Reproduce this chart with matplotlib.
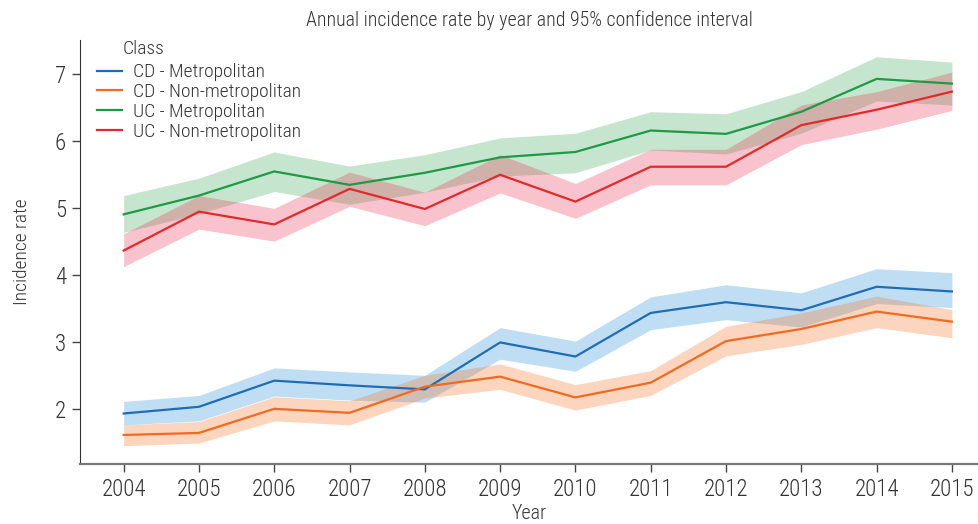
import matplotlib
matplotlib.use("Agg")
import matplotlib.pyplot as plt
from matplotlib import font_manager

# Pick a narrow sans-serif if one is installed
available = {f.name for f in font_manager.fontManager.ttflist}
family = "DejaVu Sans"
for cand in ["Roboto Condensed", "Liberation Sans Narrow", "Open Sans Condensed", "Liberation Sans"]:
    if cand in available:
        family = cand
        break
plt.rcParams["font.family"] = [family, "DejaVu Sans"]
plt.rcParams["font.weight"] = "light"
plt.rcParams["axes.titleweight"] = "light"
plt.rcParams["axes.labelweight"] = "light"

years = [2004, 2005, 2006, 2007, 2008, 2009, 2010, 2011, 2012, 2013, 2014, 2015]

cd_metro = [1.94, 2.04, 2.43, 2.36, 2.30, 3.00, 2.79, 3.44, 3.60, 3.48, 3.83, 3.76]
cd_metro_lo = [1.77, 1.83, 2.20, 2.14, 2.11, 2.75, 2.57, 3.19, 3.34, 3.23, 3.58, 3.52]
cd_metro_hi = [2.12, 2.21, 2.62, 2.56, 2.51, 3.22, 3.02, 3.68, 3.86, 3.74, 4.10, 4.04]

cd_nonmetro = [1.62, 1.65, 2.01, 1.95, 2.34, 2.49, 2.18, 2.40, 3.02, 3.20, 3.46, 3.31]
cd_nonmetro_lo = [1.46, 1.50, 1.83, 1.77, 2.17, 2.30, 1.99, 2.21, 2.80, 2.97, 3.22, 3.07]
cd_nonmetro_hi = [1.77, 1.82, 2.19, 2.13, 2.51, 2.68, 2.37, 2.58, 3.24, 3.44, 3.69, 3.49]

uc_metro = [4.91, 5.19, 5.55, 5.35, 5.53, 5.76, 5.84, 6.16, 6.11, 6.44, 6.93, 6.86]
uc_metro_lo = [4.64, 4.92, 5.25, 5.06, 5.24, 5.48, 5.53, 5.87, 5.81, 6.12, 6.60, 6.54]
uc_metro_hi = [5.19, 5.45, 5.84, 5.63, 5.80, 6.05, 6.12, 6.44, 6.41, 6.74, 7.26, 7.18]

uc_nonmetro = [4.37, 4.95, 4.76, 5.29, 4.99, 5.50, 5.10, 5.62, 5.62, 6.24, 6.47, 6.74]
uc_nonmetro_lo = [4.13, 4.69, 4.51, 5.03, 4.74, 5.23, 4.85, 5.35, 5.35, 5.95, 6.18, 6.46]
uc_nonmetro_hi = [4.62, 5.19, 5.00, 5.54, 5.24, 5.80, 5.37, 5.88, 5.88, 6.54, 6.74, 7.03]

labels = ["CD - Metropolitan", "CD - Non-metropolitan",
          "UC - Metropolitan", "UC - Non-metropolitan"]
line_colors = ["#1f6db5", "#f26a1f", "#1d9a45", "#e22a2a"]
band_colors = ["#2d94da", "#f57626", "#41ac5f", "#e83a58"]

series = [
    (cd_metro, cd_metro_lo, cd_metro_hi),
    (cd_nonmetro, cd_nonmetro_lo, cd_nonmetro_hi),
    (uc_metro, uc_metro_lo, uc_metro_hi),
    (uc_nonmetro, uc_nonmetro_lo, uc_nonmetro_hi),
]

text_color = "#333333"

fig = plt.figure(figsize=(9.79, 5.24), dpi=100)
ax = fig.add_axes([80 / 979, 1 - 464 / 524, 899 / 979, 424 / 524])

for (mid, lo, hi), lab, lc, bc in zip(series, labels, line_colors, band_colors):
    ax.fill_between(years, lo, hi, color=bc, alpha=0.3, linewidth=0)
    ax.plot(years, mid, color=lc, linewidth=1.6, label=lab)

ax.set_xlim(2003.42, 2015.36)
ax.set_ylim(1.187, 7.51)
ax.set_xticks(years)
ax.set_xticklabels([str(y) for y in years])
ax.set_yticks([2, 3, 4, 5, 6, 7])

for side in ["top", "right"]:
    ax.spines[side].set_visible(False)
ax.spines["left"].set_color("#333333")
ax.spines["bottom"].set_color("#777777")
ax.spines["bottom"].set_linewidth(1.6)
ax.tick_params(axis="both", direction="out", length=6, width=1,
               color="#444444", labelsize=16.5, labelcolor=text_color, pad=4)

ax.set_xlabel("Year", fontsize=14.5, color=text_color, labelpad=2)
ax.set_ylabel("Incidence rate", fontsize=14, color=text_color, labelpad=17)
ax.set_title("Annual incidence rate by year and 95% confidence interval",
             fontsize=14.3, color=text_color, pad=10)

leg = ax.legend(loc="upper left", bbox_to_anchor=(0.019, 0.945), frameon=False,
                fontsize=14, handlelength=1.3, handletextpad=0.55,
                labelspacing=0.1, borderaxespad=0.0, borderpad=0.0)
for t in leg.get_texts():
    t.set_color(text_color)
ax.text(0.047, 1.0, "Class", transform=ax.transAxes, fontsize=14,
        color=text_color, ha="left", va="top")

fig.savefig("out.png", dpi=100)
